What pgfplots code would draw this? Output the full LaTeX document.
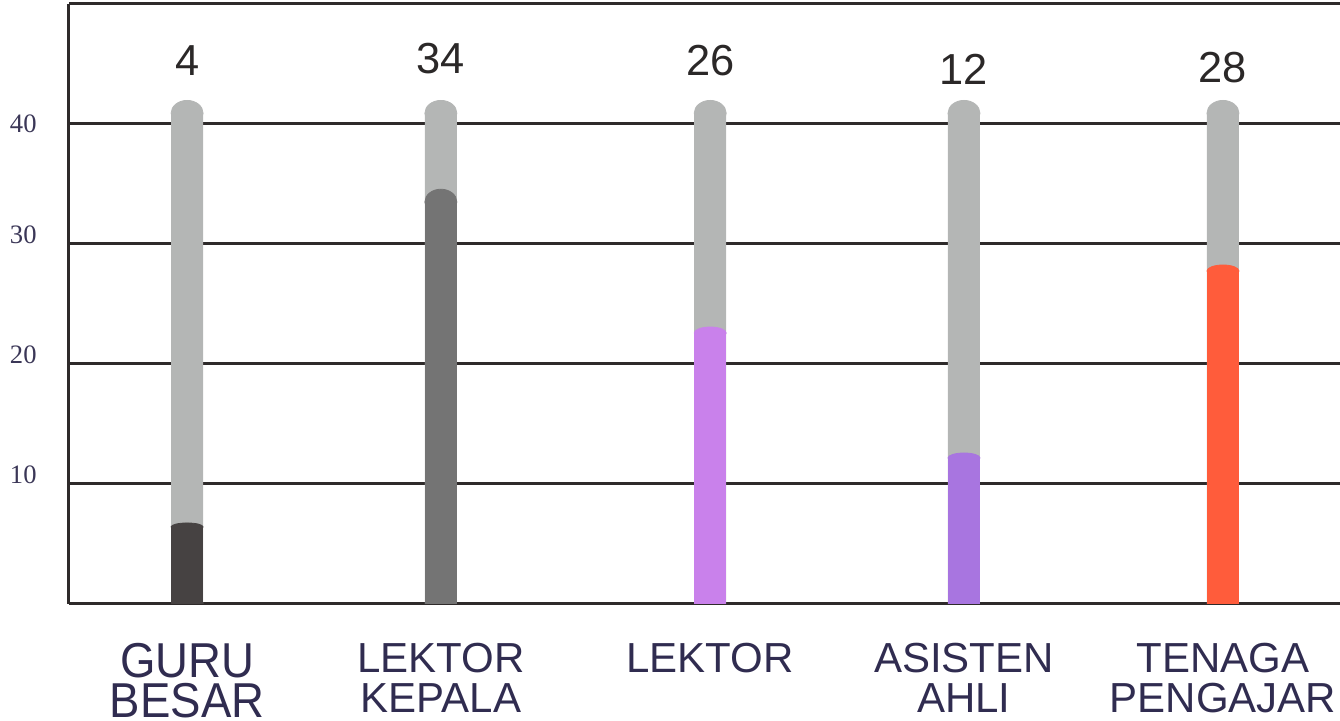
\documentclass[border=0pt]{standalone}
\usepackage{fontspec}
\setmainfont{Liberation Sans}
\newfontfamily\numfont{Liberation Serif}
\newfontfamily\gurufont[FakeStretch=0.93]{Liberation Sans}
\usepackage{pgfplots}
\pgfplotsset{compat=1.18}
\usetikzlibrary{calc}

\definecolor{gridc}{HTML}{2E2A2A}
\definecolor{track}{HTML}{B4B6B5}
\definecolor{cGuru}{HTML}{464242}
\definecolor{cLK}{HTML}{747474}
\definecolor{cLek}{HTML}{C981EB}
\definecolor{cAsis}{HTML}{A875E0}
\definecolor{cTen}{HTML}{FF5C3B}
\definecolor{catc}{HTML}{302C50}
\definecolor{tickc}{HTML}{3B3757}
\definecolor{numc}{HTML}{2B2828}

% line fonts for the category labels (tikz resets the font after \\)
\newcommand\G[1]{{\gurufont\fontsize{24.5}{20}\selectfont #1}}
\newcommand\C[1]{{\fontsize{21}{20}\selectfont #1}}

% column body and its cap (cap drawn as a squashed circle mark)
\pgfplotsset{
  col/.style={ybar, bar width=16pt, bar shift=0pt, draw=none, fill=#1},
  cap/.style 2 args={only marks, mark=*, mark size=8pt, color=#1,
    mark options={yscale=#2, draw=none, fill=#1}},
}

\begin{document}
\begin{tikzpicture}
\begin{axis}[
  name=ax, scale only axis,
  width=635.5pt, height=300pt,
  xmin=-0.456, xmax=4.452, ymin=0, ymax=50,
  axis x line*=bottom, axis y line*=left,
  axis line style={gridc, line width=1.5pt},
  major tick length=0pt,
  ymajorgrids, grid style={gridc, line width=1.5pt},
  ytick={10,20,30,40,50},
  yticklabels={10,20,30,{\raisebox{-4.5pt}{40}},{}},
  yticklabel style={anchor=base east, inner sep=0pt, xshift=-16pt,
    font=\numfont\fontsize{13.3}{14}\selectfont, text=tickc},
  xtick={0,0.98,2.02,3,4},
  xticklabels={
    {\G{GURU}\\\G{BESAR}},
    {\C{LEKTOR}\\\C{KEPALA}},
    {\C{LEKTOR}},
    {\C{ASISTEN}\\\C{AHLI}},
    {\C{TENAGA}\\\C{PENGAJAR}}},
  xticklabel style={anchor=north, align=center, inner sep=0pt,
    font=\fontsize{21}{20}\selectfont, yshift=-19.5pt, text=catc},
]
% grey tracks
\addplot[col=track] coordinates {(0,40.9) (0.98,40.9) (2.02,40.9) (3,40.9) (4,40.9)};
\addplot[cap={track}{0.8}] coordinates {(0,40.9) (0.98,40.9) (2.02,40.9) (3,40.9) (4,40.9)};

% filled columns
\addplot[col=cGuru] coordinates {(0,6.42)};
\addplot[cap={cGuru}{0.25}] coordinates {(0,6.42)};
\addplot[col=cLK] coordinates {(0.98,33.5)};
\addplot[cap={cLK}{0.8}] coordinates {(0.98,33.5)};
\addplot[col=cLek] coordinates {(2.02,22.58)};
\addplot[cap={cLek}{0.375}] coordinates {(2.02,22.58)};
\addplot[col=cAsis] coordinates {(3,12.17)};
\addplot[cap={cAsis}{0.31}] coordinates {(3,12.17)};
\addplot[col=cTen] coordinates {(4,27.75)};
\addplot[cap={cTen}{0.375}] coordinates {(4,27.75)};

% value labels
\addplot[draw=none, mark=none, nodes near coords, point meta=explicit symbolic,
  every node near coord/.style={anchor=base, inner sep=0pt,
    font=\fontsize{21.7}{24}\selectfont, text=numc}]
  table[meta=lab] {
x y lab
0.002 44.08 4
0.979 44.17 34
2.02 44.08 26
3.0 43.25 12
4.0 43.42 28
};
\end{axis}
\pgfresetboundingbox
\path[use as bounding box] ($(ax.south west)+(-34.5pt,-58.5pt)$) rectangle ($(ax.north east)+(0,2pt)$);
\end{tikzpicture}
\end{document}
